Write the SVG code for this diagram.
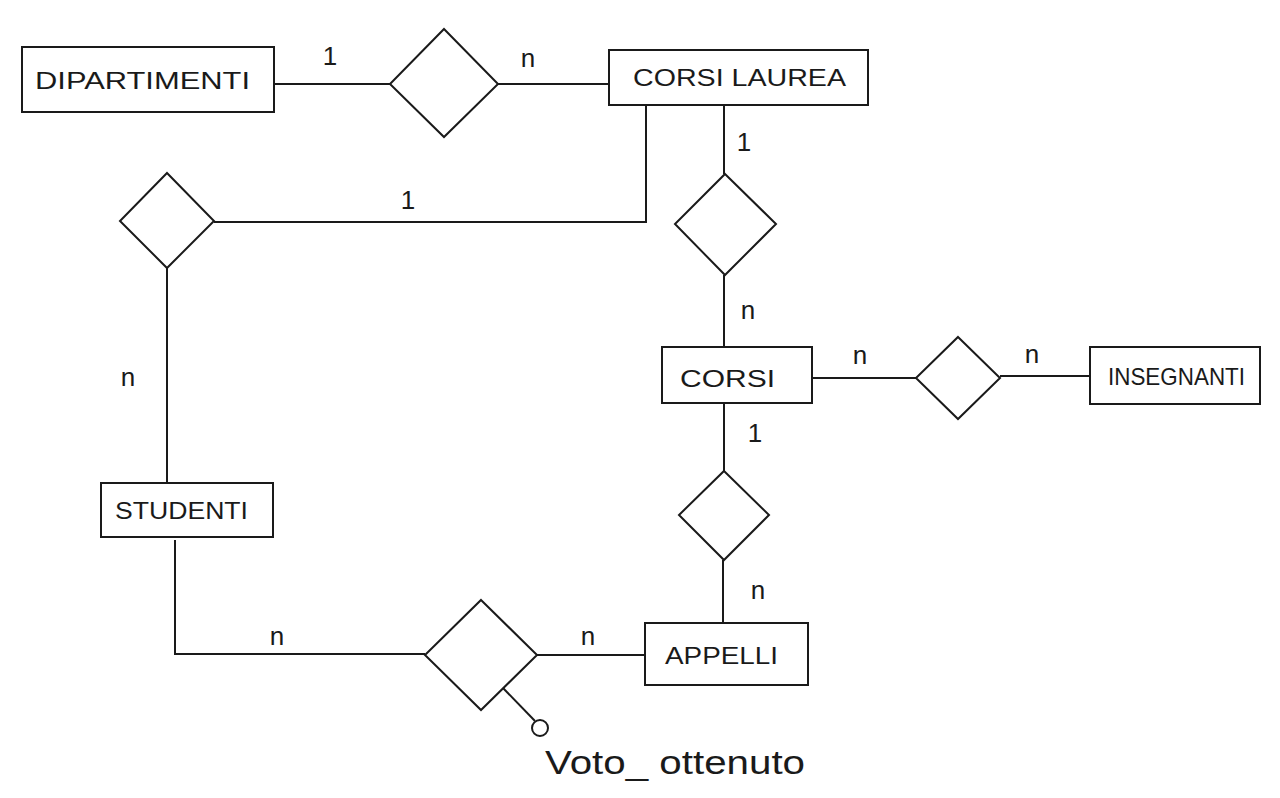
<svg xmlns="http://www.w3.org/2000/svg" width="1280" height="798" viewBox="0 0 1280 798">
<style>
.ent{fill:#fff;stroke:#1a1a1a;stroke-width:2}
.rel{fill:#fff;stroke:#1a1a1a;stroke-width:2}
.ln{fill:none;stroke:#1a1a1a;stroke-width:2}
.lbl{font-family:"Liberation Sans",Arial,sans-serif;font-size:24px;fill:#1a1a1a;dominant-baseline:central}
.card{font-family:"Liberation Sans",Arial,sans-serif;font-size:26px;fill:#1a1a1a;text-anchor:middle;dominant-baseline:central}
.attr{font-family:"Liberation Sans",Arial,sans-serif;font-size:34px;fill:#1a1a1a;dominant-baseline:central}
</style>
<rect width="1280" height="798" fill="#fff"/>
<g id="connectors">
<line class="ln" x1="274" y1="84" x2="390" y2="84"/>
<line class="ln" x1="498" y1="84" x2="608" y2="84"/>
<polyline class="ln" points="646,105 646,222 214,222"/>
<line class="ln" x1="724" y1="105" x2="724" y2="174"/>
<line class="ln" x1="724" y1="275" x2="724" y2="347"/>
<line class="ln" x1="167" y1="268" x2="167" y2="483"/>
<polyline class="ln" points="175,540 175,654 425,654"/>
<line class="ln" x1="537" y1="655" x2="645" y2="655"/>
<line class="ln" x1="724" y1="403" x2="724" y2="471"/>
<line class="ln" x1="723" y1="560" x2="723" y2="623"/>
<line class="ln" x1="812" y1="378" x2="916" y2="378"/>
<line class="ln" x1="1000" y1="376" x2="1090" y2="376"/>
<line class="ln" x1="503" y1="688" x2="535" y2="721"/>
<text class="card" x="330" y="56">1</text>
<text class="card" x="528" y="58">n</text>
<text class="card" x="744" y="142">1</text>
<text class="card" x="748" y="310">n</text>
<text class="card" x="408" y="200">1</text>
<text class="card" x="128" y="377">n</text>
<text class="card" x="277" y="636">n</text>
<text class="card" x="588" y="636">n</text>
<text class="card" x="755" y="433">1</text>
<text class="card" x="758" y="590">n</text>
<text class="card" x="860" y="355">n</text>
<text class="card" x="1032" y="354">n</text>
</g>
<g id="DIPARTIMENTI">
<rect class="ent" x="22" y="47" width="252" height="65"/>
<text class="lbl" x="35" y="80" textLength="215" lengthAdjust="spacingAndGlyphs">DIPARTIMENTI</text>
</g>
<g id="rel-dip-corsilaurea">
<polygon class="rel" points="444,29 498,84 444,137 390,84"/>
</g>
<g id="CORSI_LAUREA">
<rect class="ent" x="609" y="50" width="259" height="55"/>
<text class="lbl" x="633" y="77" textLength="213" lengthAdjust="spacingAndGlyphs">CORSI  LAUREA</text>
</g>
<g id="rel-corsilaurea-corsi">
<polygon class="rel" points="725,174 776,224 725,275 675,224"/>
</g>
<g id="rel-corsilaurea-studenti">
<polygon class="rel" points="167,173 214,221 167,268 120,221"/>
</g>
<g id="CORSI">
<rect class="ent" x="662" y="347" width="150" height="56"/>
<text class="lbl" x="680" y="378" textLength="95" lengthAdjust="spacingAndGlyphs">CORSI</text>
</g>
<g id="rel-corsi-insegnanti">
<polygon class="rel" points="958,337 1000,378 958,419 916,378"/>
</g>
<g id="INSEGNANTI">
<rect class="ent" x="1090" y="347" width="170" height="57"/>
<text class="lbl" x="1108" y="376" textLength="137" lengthAdjust="spacingAndGlyphs">INSEGNANTI</text>
</g>
<g id="rel-corsi-appelli">
<polygon class="rel" points="724,471 769,515 724,560 679,515"/>
</g>
<g id="STUDENTI">
<rect class="ent" x="101" y="483" width="172" height="54"/>
<text class="lbl" x="115" y="510" textLength="133" lengthAdjust="spacingAndGlyphs">STUDENTI</text>
</g>
<g id="rel-studenti-appelli">
<polygon class="rel" points="481,600 537,655 481,710 425,655"/>
</g>
<g id="APPELLI">
<rect class="ent" x="645" y="623" width="163" height="62"/>
<text class="lbl" x="665" y="655" textLength="113" lengthAdjust="spacingAndGlyphs">APPELLI</text>
</g>
<g id="attr-voto">
<circle cx="540" cy="728" r="8" fill="#fff" stroke="#1a1a1a" stroke-width="2"/>
<text class="attr" x="545" y="762" textLength="260" lengthAdjust="spacingAndGlyphs">Voto_ ottenuto</text>
</g>
</svg>
